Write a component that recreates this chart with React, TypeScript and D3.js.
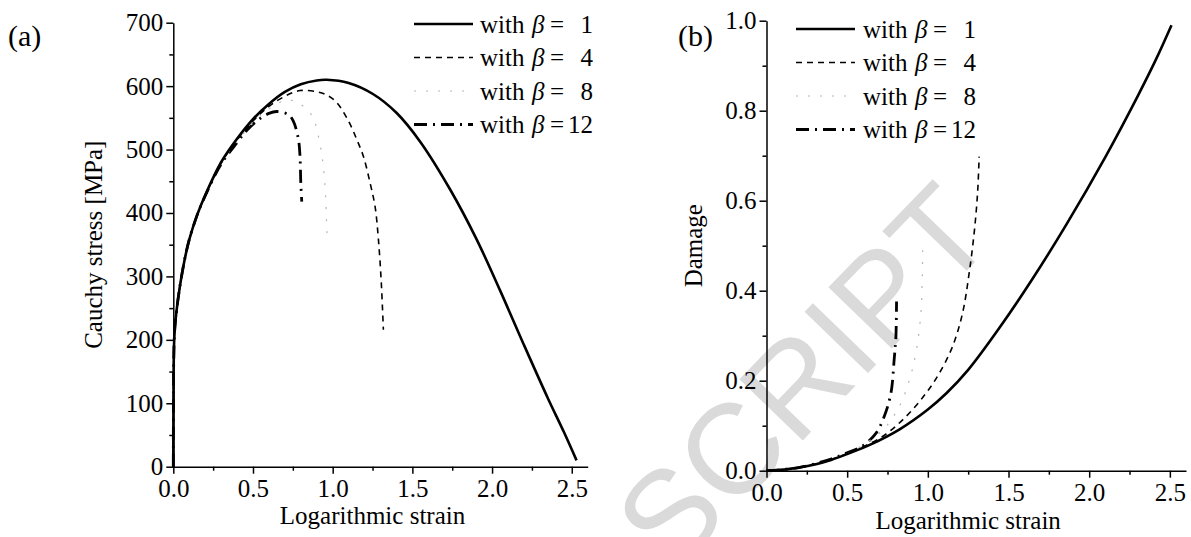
import React, { useEffect, useRef } from "react";
import * as d3 from "d3";

const W = 1191;
const H = 537;

// ---------- data ----------
const betaValues = [1, 4, 8, 12];
const strainTicks = [0, 0.5, 1.0, 1.5, 2.0, 2.5];
const strainMinorTicks = [0.25, 0.75, 1.25, 1.75, 2.25];
const stressTicks = [0, 100, 200, 300, 400, 500, 600, 700];
const stressMinorTicks = [50, 150, 250, 350, 450, 550, 650];
const damageTicks = [0, 0.2, 0.4, 0.6, 0.8, 1.0];
const damageMinorTicks = [0.1, 0.3, 0.5, 0.7, 0.9];

// Panel (a): [logarithmic strain, Cauchy stress MPa]
const stressBeta1: [number, number][] = [
  [0, 0], [0.002, 150], [0.005, 195], [0.01, 220], [0.02, 245], [0.04, 282], [0.07, 325],
  [0.1, 358], [0.15, 397], [0.2, 428], [0.3, 480], [0.4, 517], [0.5, 548], [0.6, 572],
  [0.7, 591], [0.8, 603], [0.9, 609], [0.963, 610], [1.1, 605], [1.25, 588], [1.4, 558],
  [1.55, 512], [1.737, 437], [1.9, 360], [2.05, 278], [2.2, 192], [2.35, 108], [2.45, 55], [2.53, 10],
];
const stressBeta4: [number, number][] = [
  [0, 0], [0.002, 150], [0.005, 195], [0.01, 220], [0.02, 245], [0.04, 282], [0.07, 325],
  [0.1, 358], [0.15, 397], [0.2, 428], [0.3, 479], [0.4, 515], [0.5, 545], [0.6, 568],
  [0.7, 584], [0.795, 593], [0.9, 591], [0.963, 586], [1.026, 574], [1.099, 545],
  [1.151, 516], [1.193, 489], [1.235, 447], [1.266, 410], [1.287, 358], [1.305, 290], [1.318, 216],
];
const stressBeta8: [number, number][] = [
  [0, 0], [0.002, 150], [0.005, 195], [0.01, 220], [0.02, 245], [0.04, 282], [0.07, 325],
  [0.1, 358], [0.15, 397], [0.2, 428], [0.3, 478], [0.4, 513], [0.5, 542], [0.6, 564],
  [0.712, 578], [0.78, 574], [0.837, 563], [0.879, 550], [0.9, 532], [0.93, 495],
  [0.946, 461], [0.957, 418], [0.963, 374], [0.967, 353],
];
const stressBeta12: [number, number][] = [
  [0, 0], [0.002, 150], [0.005, 195], [0.01, 220], [0.02, 245], [0.04, 282], [0.07, 325],
  [0.1, 358], [0.15, 397], [0.2, 427], [0.3, 477], [0.4, 511], [0.46, 530], [0.534, 547],
  [0.6, 557], [0.649, 560], [0.722, 555], [0.753, 545], [0.785, 516], [0.795, 489],
  [0.8, 447], [0.806, 418],
];

// Panel (b): [logarithmic strain, damage]
const damageBeta1: [number, number][] = [
  [0, 0], [0.1, 0.002], [0.2, 0.007], [0.3, 0.014], [0.4, 0.024], [0.515, 0.039], [0.65, 0.059],
  [0.825, 0.092], [1.0, 0.136], [1.115, 0.172], [1.25, 0.224], [1.445, 0.318], [1.65, 0.427],
  [1.86, 0.548], [2.1, 0.697], [2.3, 0.832], [2.414, 0.914], [2.51, 0.99],
];
const damageBeta4: [number, number][] = [
  [0, 0], [0.2, 0.007], [0.4, 0.025], [0.55, 0.046], [0.719, 0.076], [0.864, 0.12],
  [0.988, 0.172], [1.07, 0.216], [1.153, 0.276], [1.215, 0.35], [1.256, 0.439],
  [1.287, 0.528], [1.308, 0.616], [1.318, 0.698],
];
const damageBeta8: [number, number][] = [
  [0, 0], [0.2, 0.007], [0.4, 0.025], [0.55, 0.047], [0.719, 0.09], [0.822, 0.142],
  [0.884, 0.2], [0.926, 0.262], [0.957, 0.35], [0.965, 0.42], [0.968, 0.49],
];
const damageBeta12: [number, number][] = [
  [0, 0], [0.2, 0.007], [0.4, 0.026], [0.5, 0.04], [0.595, 0.055], [0.678, 0.083],
  [0.729, 0.12], [0.771, 0.172], [0.791, 0.246], [0.802, 0.298], [0.806, 0.376],
];

const stressSeries = [stressBeta1, stressBeta4, stressBeta8, stressBeta12];
const damageSeries = [damageBeta1, damageBeta4, damageBeta8, damageBeta12];

// ---------- styles ----------
const lineStyles = [
  { stroke: "#000", width: 2.6, dash: "" },
  { stroke: "#000", width: 1.6, dash: "6,5" },
  { stroke: "#b5b5b5", width: 1.2, dash: "2,10" },
  { stroke: "#000", width: 2.8, dash: "13,6,2,6" },
];
const SERIF = "'Liberation Serif', 'Times New Roman', serif";

export default function App() {
  const ref = useRef<SVGSVGElement | null>(null);

  useEffect(() => {
    const svg = d3.select(ref.current);
    svg.selectAll("*").remove();

    // watermark
    svg
      .append("text")
      .attr("transform", "translate(672,576) rotate(-46)")
      .attr("font-family", "'Liberation Sans', Arial, sans-serif")
      .attr("font-size", 128)
      .attr("fill", "#dadada")
      .text("SCRIPT");

    const panels = [
      {
        x: d3.scaleLinear().domain([0, 2.6]).range([173.3, 587.7]),
        y: d3.scaleLinear().domain([0, 700]).range([466.7, 22.7]),
        yTicks: stressTicks,
        yMinor: stressMinorTicks,
        yFmt: d3.format("d"),
        series: stressSeries,
        yTitle: "Cauchy stress [MPa]",
        yTitleX: 102,
        label: "(a)",
        labelX: 8,
        legendX0: 414,
        legendX1: 473,
        textX: 480,
        rows: [24, 57.5, 91, 124.5],
        xTitleY: 524,
      },
      {
        x: d3.scaleLinear().domain([0, 2.6]).range([766.5, 1186]),
        y: d3.scaleLinear().domain([0, 1]).range([470.7, 20.7]),
        yTicks: damageTicks,
        yMinor: damageMinorTicks,
        yFmt: d3.format(".1f"),
        series: damageSeries,
        yTitle: "Damage",
        yTitleX: 702,
        label: "(b)",
        labelX: 678,
        legendX0: 796,
        legendX1: 855,
        textX: 863,
        rows: [29, 62.5, 96, 129.5],
        xTitleY: 529,
      },
    ];

    panels.forEach((p) => {
      const g = svg.append("g");
      const [y0] = p.y.range();
      const [x0] = p.x.range();

      // curves
      const line = d3
        .line<[number, number]>()
        .x((d) => p.x(d[0]))
        .y((d) => p.y(d[1]))
        .curve(d3.curveCatmullRom.alpha(0.5));
      [3, 2, 1, 0].forEach((i) => {
        const s = lineStyles[i];
        g.append("path")
          .attr("d", line(p.series[i]) || "")
          .attr("fill", "none")
          .attr("stroke", s.stroke)
          .attr("stroke-width", s.width)
          .attr("stroke-dasharray", s.dash || null);
      });

      // axes
      const styleAxis = (ax: any) => {
        ax.attr("font-family", SERIF).attr("font-size", 25);
        ax.selectAll("path, line").attr("stroke", "#000").attr("stroke-width", 1.5);
        ax.selectAll("text").attr("fill", "#000");
      };
      const xAxis = g
        .append("g")
        .attr("transform", `translate(0,${y0})`)
        .call(
          d3.axisBottom(p.x).tickValues(strainTicks).tickFormat(d3.format(".1f")).tickSizeInner(7).tickSizeOuter(0).tickPadding(6)
        );
      styleAxis(xAxis);
      const xMinor = g
        .append("g")
        .attr("transform", `translate(0,${y0})`)
        .call(d3.axisBottom(p.x).tickValues(strainMinorTicks).tickFormat(() => "").tickSizeInner(4).tickSizeOuter(0));
      xMinor.select(".domain").remove();
      styleAxis(xMinor);

      const yAxis = g
        .append("g")
        .attr("transform", `translate(${x0},0)`)
        .call(
          d3.axisLeft(p.y).tickValues(p.yTicks).tickFormat(p.yFmt as any).tickSizeInner(7).tickSizeOuter(0).tickPadding(3)
        );
      styleAxis(yAxis);
      const yMinor = g
        .append("g")
        .attr("transform", `translate(${x0},0)`)
        .call(d3.axisLeft(p.y).tickValues(p.yMinor).tickFormat(() => "").tickSizeInner(4).tickSizeOuter(0));
      yMinor.select(".domain").remove();
      styleAxis(yMinor);

      // titles
      const [xa] = p.x.range();
      g.append("text")
        .attr("x", (xa + p.x(2.5)) / 2)
        .attr("y", p.xTitleY)
        .attr("text-anchor", "middle")
        .attr("font-family", SERIF)
        .attr("font-size", 25)
        .text("Logarithmic strain");
      const [ya, yb] = p.y.range();
      g.append("text")
        .attr("transform", `translate(${p.yTitleX},${(ya + yb) / 2}) rotate(-90)`)
        .attr("text-anchor", "middle")
        .attr("font-family", SERIF)
        .attr("font-size", 25)
        .text(p.yTitle);

      // panel label
      g.append("text")
        .attr("x", p.labelX)
        .attr("y", 46)
        .attr("font-family", SERIF)
        .attr("font-size", 30)
        .text(p.label);

      // legend
      betaValues.forEach((b, i) => {
        const s = lineStyles[i];
        const ry = p.rows[i];
        const by = ry + 8.5;
        g.append("line")
          .attr("x1", p.legendX0)
          .attr("x2", p.legendX1)
          .attr("y1", ry)
          .attr("y2", ry)
          .attr("stroke", s.stroke)
          .attr("stroke-width", s.width)
          .attr("stroke-dasharray", s.dash || null);
        const txt = (x: number, t: string, italic = false, anchor = "start") =>
          g.append("text")
            .attr("x", x)
            .attr("y", by)
            .attr("font-family", SERIF)
            .attr("font-size", 25)
            .attr("font-style", italic ? "italic" : null)
            .attr("text-anchor", anchor)
            .text(t);
        txt(p.textX, "with");
        txt(p.textX + 52, "β", true);
        txt(p.textX + 70, "=");
        txt(p.textX + 113, String(b), false, "end");
      });
    });
  }, []);

  return (
    <svg
      ref={ref}
      width={W}
      height={H}
      viewBox={`0 0 ${W} ${H}`}
      style={{ position: "absolute", left: 0, top: 0, background: "#fff" }}
    />
  );
}
